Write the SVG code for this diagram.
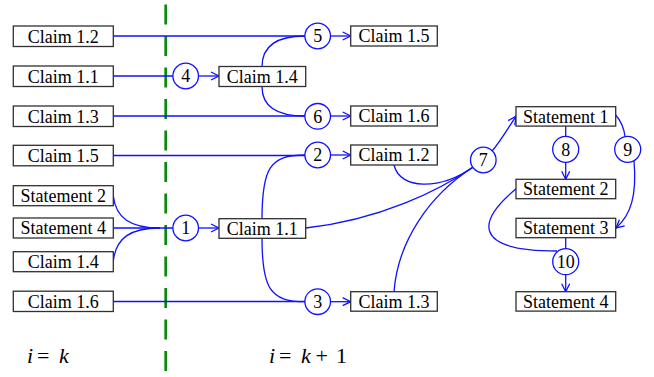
<svg xmlns="http://www.w3.org/2000/svg" width="654" height="377" viewBox="0 0 654 377">
<defs>
<marker id="arr" markerUnits="userSpaceOnUse" markerWidth="12" markerHeight="12" refX="9" refY="5" orient="auto" viewBox="0 0 12 10">
<path d="M1,1 L9,5 L1,9" fill="none" stroke="#1010ff" stroke-width="1.3"/>
</marker>
<style>
.box{fill:#fff;stroke:#303030;stroke-width:1.3}
.t{font-family:'Liberation Serif','DejaVu Serif',serif;font-size:18px;text-anchor:middle;fill:#000}
.c{fill:#fff;stroke:#1010ff;stroke-width:1.3}
.e{fill:none;stroke:#1010ff;stroke-width:1.3}
.a{marker-end:url(#arr)}
.m{font-family:'Liberation Serif','DejaVu Serif',serif;font-size:22px;fill:#000}
</style>
</defs>
<rect width="654" height="377" fill="#fff"/>

<line x1="165.7" y1="4.5" x2="165.7" y2="372" stroke="#0a8a0a" stroke-width="2.7" stroke-dasharray="20 11.5"/>

<g id="connectors">
<path class="e" d="M113.3,36 H305"/>
<path class="e" d="M113.3,76 H173"/>
<path class="e a" d="M198.5,76 H219"/>
<path class="e" d="M113.3,116 H305"/>
<path class="e" d="M262,66.7 C262,46 276,36 305,36"/>
<path class="e" d="M262,86.7 C262,106 276,116 305,116"/>
<path class="e a" d="M330.5,36 H350.7"/>
<path class="e a" d="M330.5,116 H350.7"/>
<path class="e" d="M113.3,155.5 H305"/>
<path class="e" d="M113.3,196 C116,218 130,228 160,228"/>
<path class="e" d="M113.3,261 C116,238 130,228 160,228"/>
<path class="e" d="M113.3,228 H173"/>
<path class="e a" d="M198.5,228 H219"/>
<path class="e" d="M262,219 C262,168 270,155 305,155"/>
<path class="e" d="M262,238.3 C262,288 270,301.7 305,301.7"/>
<path class="e" d="M113.3,301.5 H305"/>
<path class="e a" d="M330.5,155 H350.7"/>
<path class="e a" d="M330.5,301.7 H350.7"/>
<path class="e" d="M394,165 C400,190 440,190 472.5,167.5"/>
<path class="e" d="M305.7,228 C380,220 440,190 472.5,167.5"/>
<path class="e" d="M394,291.7 C398,240 430,195 472.5,167.5"/>
<path class="e a" d="M492,151 C500,142 508,128 516,116.3"/>
<path class="e" d="M565.7,126 V136.5"/>
<path class="e a" d="M565.7,162.3 V179.3"/>
<path class="e" d="M615.7,115 C621,121 624,128 625,136.5"/>
<path class="e a" d="M634,161 C637,195 631,215 616,228"/>
<path class="e" d="M516.7,188.3 C478,220 470,251 557,251"/>
<path class="e" d="M565.7,237.7 V249"/>
<path class="e a" d="M565.7,274.7 V291.7"/>
</g>

<g id="n-l-claim12"><rect class="box" x="13.3" y="26" width="100" height="20.5"/><text class="t" x="63.3" y="42.5">Claim 1.2</text></g>
<g id="n-l-claim11"><rect class="box" x="13.3" y="66" width="100" height="20.5"/><text class="t" x="63.3" y="82.5">Claim 1.1</text></g>
<g id="n-l-claim13"><rect class="box" x="13.3" y="106" width="100" height="20.5"/><text class="t" x="63.3" y="122.5">Claim 1.3</text></g>
<g id="n-l-claim15"><rect class="box" x="13.3" y="145.3" width="100" height="20.5"/><text class="t" x="63.3" y="161.8">Claim 1.5</text></g>
<g id="n-l-stmt2"><rect class="box" x="13.3" y="185.7" width="100" height="20"/><text class="t" x="63.3" y="202">Statement 2</text></g>
<g id="n-l-stmt4"><rect class="box" x="13.3" y="218" width="100" height="20"/><text class="t" x="63.3" y="234.3">Statement 4</text></g>
<g id="n-l-claim14"><rect class="box" x="13.3" y="251.7" width="100" height="20"/><text class="t" x="63.3" y="268">Claim 1.4</text></g>
<g id="n-l-claim16"><rect class="box" x="13.3" y="291.2" width="100" height="20.3"/><text class="t" x="63.3" y="307.6">Claim 1.6</text></g>

<g id="n-c4"><circle class="c" cx="185.7" cy="76" r="12.8"/><text class="t" x="185.7" y="82.3">4</text></g>
<g id="n-c1"><circle class="c" cx="185.7" cy="228" r="12.8"/><text class="t" x="185.7" y="234.3">1</text></g>

<g id="n-m-claim14"><rect class="box" x="219" y="66.5" width="86.7" height="20"/><text class="t" x="262.3" y="82.8">Claim 1.4</text></g>
<g id="n-m-claim11"><rect class="box" x="219" y="218.7" width="86.7" height="19.6"/><text class="t" x="262.3" y="234.8">Claim 1.1</text></g>

<g id="n-c5"><circle class="c" cx="317.7" cy="36" r="12.8"/><text class="t" x="317.7" y="42.3">5</text></g>
<g id="n-c6"><circle class="c" cx="317.7" cy="116.3" r="12.8"/><text class="t" x="317.7" y="122.6">6</text></g>
<g id="n-c2"><circle class="c" cx="317.7" cy="155" r="12.8"/><text class="t" x="317.7" y="161.3">2</text></g>
<g id="n-c3"><circle class="c" cx="317.7" cy="301.7" r="12.8"/><text class="t" x="317.7" y="308">3</text></g>

<g id="n-r-claim15"><rect class="box" x="350.7" y="26" width="86.6" height="20"/><text class="t" x="394" y="42.3">Claim 1.5</text></g>
<g id="n-r-claim16"><rect class="box" x="350.7" y="106" width="86.6" height="20"/><text class="t" x="394" y="122.3">Claim 1.6</text></g>
<g id="n-r-claim12"><rect class="box" x="350.7" y="145" width="86.6" height="20"/><text class="t" x="394" y="161.3">Claim 1.2</text></g>
<g id="n-r-claim13"><rect class="box" x="350.7" y="291.7" width="86.6" height="19.5"/><text class="t" x="394" y="307.8">Claim 1.3</text></g>

<g id="n-c7"><circle class="c" cx="483.3" cy="160" r="12.8"/><text class="t" x="483.3" y="166.3">7</text></g>

<g id="n-stmt1"><rect class="box" x="516" y="106.7" width="99.7" height="19.4"/><text class="t" x="565.8" y="122.7">Statement 1</text></g>
<g id="n-stmt2"><rect class="box" x="516" y="179.3" width="99.7" height="19.4"/><text class="t" x="565.8" y="195.3">Statement 2</text></g>
<g id="n-stmt3"><rect class="box" x="516" y="218.3" width="99.7" height="19.4"/><text class="t" x="565.8" y="234.3">Statement 3</text></g>
<g id="n-stmt4"><rect class="box" x="516" y="291.7" width="99.7" height="19.4"/><text class="t" x="565.8" y="307.7">Statement 4</text></g>

<g id="n-c8"><circle class="c" cx="565.7" cy="149.3" r="13"/><text class="t" x="565.7" y="155.6">8</text></g>
<g id="n-c9"><circle class="c" cx="627.7" cy="149.3" r="13"/><text class="t" x="627.7" y="155.6">9</text></g>
<g id="n-c10"><circle class="c" cx="565.7" cy="261.7" r="13"/><text class="t" x="565.7" y="268">10</text></g>

<g id="labels">
<text class="m" y="363"><tspan x="27" font-style="italic">i</tspan><tspan x="37">=</tspan><tspan x="59" font-style="italic">k</tspan></text>
<text class="m" y="363"><tspan x="269" font-style="italic">i</tspan><tspan x="279">=</tspan><tspan x="301" font-style="italic">k</tspan><tspan x="315.5">+</tspan><tspan x="336">1</tspan></text>
</g>
</svg>
